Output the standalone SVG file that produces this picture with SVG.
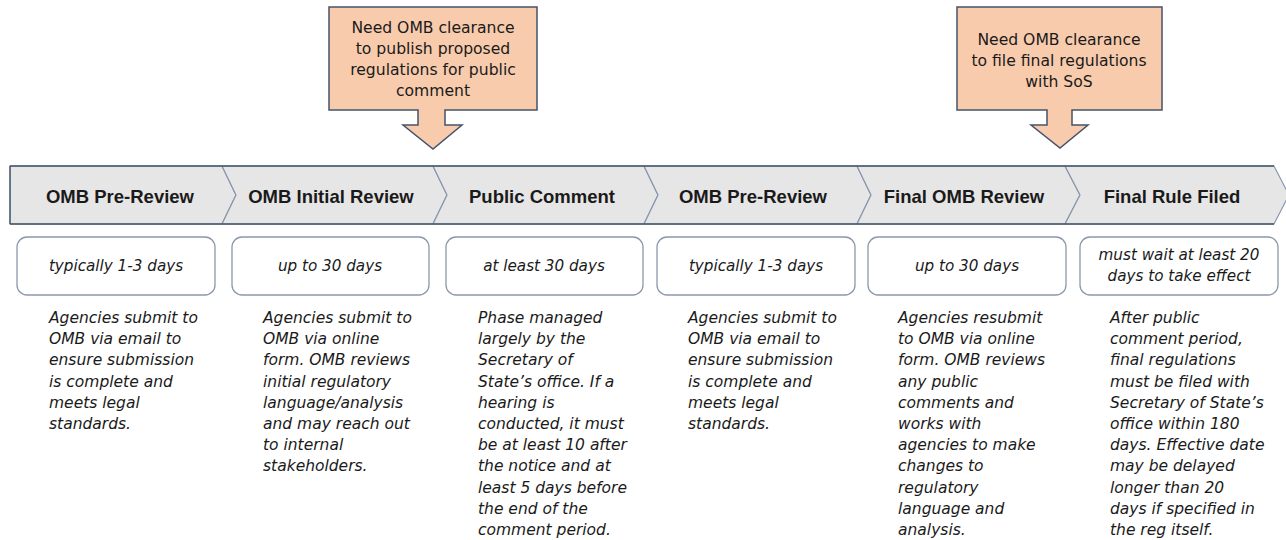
<svg xmlns="http://www.w3.org/2000/svg" width="1286" height="540" viewBox="0 0 1286 540">
<style>
.seg{fill:#e7e6e6;stroke:#8796ad;stroke-width:1.2}
.edge{stroke:#44546a;stroke-width:1.3;fill:none}
.lbl{font-family:"Liberation Sans",Arial,sans-serif;font-weight:bold;font-size:18.5px;fill:#1a1a1a;text-anchor:middle}
.box{fill:#ffffff;stroke:#8a98ac;stroke-width:1.3}
.dur{font-family:"DejaVu Sans",Verdana,sans-serif;font-style:italic;font-size:15.2px;fill:#1a1a1a;text-anchor:middle}
.body{font-family:"DejaVu Sans",Verdana,sans-serif;font-style:italic;font-size:15.5px;fill:#1a1a1a}
.call{fill:#f8cbad;stroke:#44546a;stroke-width:1.5}
.ctext{font-family:"DejaVu Sans",Verdana,sans-serif;font-size:15.6px;fill:#1a1a1a;text-anchor:middle}
</style>
<rect width="1286" height="540" fill="#ffffff"/>

<g id="callout-proposed">
<path class="call" d="M329,7 H537 V110 H445 V125 H462 L433,149 L403,125 H418 V110 H329 Z"/>
<text class="ctext" x="433" y="33">Need OMB clearance</text>
<text class="ctext" x="433" y="54">to publish proposed</text>
<text class="ctext" x="433" y="75">regulations for public</text>
<text class="ctext" x="433" y="96">comment</text>
</g>

<g id="callout-final">
<path class="call" d="M957,7 H1162 V110 H1072 V125 H1088 L1060,148 L1031,125 H1047 V110 H957 Z"/>
<text class="ctext" x="1059" y="45">Need OMB clearance</text>
<text class="ctext" x="1059" y="66">to file final regulations</text>
<text class="ctext" x="1059" y="87">with SoS</text>
</g>

<g id="phase-1">
<polygon class="seg" points="10,166 222,166 236,195 222,224 10,224"/>
<text class="lbl" x="120" y="203">OMB Pre-Review</text>
<rect class="box" x="17" y="237" width="198" height="58" rx="10"/>
<text class="dur" x="116" y="271">typically 1-3 days</text>
<text class="body" x="49" y="323">
<tspan x="49" dy="0">Agencies submit to</tspan>
<tspan x="49" dy="21.2">OMB via email to</tspan>
<tspan x="49" dy="21.2">ensure submission</tspan>
<tspan x="49" dy="21.2">is complete and</tspan>
<tspan x="49" dy="21.2">meets legal</tspan>
<tspan x="49" dy="21.2">standards.</tspan>
</text>
</g>

<g id="phase-2">
<polygon class="seg" points="222,166 433,166 447,195 433,224 222,224 236,195"/>
<text class="lbl" x="331" y="203">OMB Initial Review</text>
<rect class="box" x="232" y="237" width="197" height="58" rx="10"/>
<text class="dur" x="330" y="271">up to 30 days</text>
<text class="body" x="263" y="323">
<tspan x="263" dy="0">Agencies submit to</tspan>
<tspan x="263" dy="21.2">OMB via online</tspan>
<tspan x="263" dy="21.2">form. OMB reviews</tspan>
<tspan x="263" dy="21.2">initial regulatory</tspan>
<tspan x="263" dy="21.2">language/analysis</tspan>
<tspan x="263" dy="21.2">and may reach out</tspan>
<tspan x="263" dy="21.2">to internal</tspan>
<tspan x="263" dy="21.2">stakeholders.</tspan>
</text>
</g>

<g id="phase-3">
<polygon class="seg" points="433,166 644,166 658,195 644,224 433,224 447,195"/>
<text class="lbl" x="542" y="203">Public Comment</text>
<rect class="box" x="446" y="237" width="197" height="58" rx="10"/>
<text class="dur" x="544" y="271">at least 30 days</text>
<text class="body" x="478" y="323">
<tspan x="478" dy="0">Phase managed</tspan>
<tspan x="478" dy="21.2">largely by the</tspan>
<tspan x="478" dy="21.2">Secretary of</tspan>
<tspan x="478" dy="21.2">State’s office. If a</tspan>
<tspan x="478" dy="21.2">hearing is</tspan>
<tspan x="478" dy="21.2">conducted, it must</tspan>
<tspan x="478" dy="21.2">be at least 10 after</tspan>
<tspan x="478" dy="21.2">the notice and at</tspan>
<tspan x="478" dy="21.2">least 5 days before</tspan>
<tspan x="478" dy="21.2">the end of the</tspan>
<tspan x="478" dy="21.2">comment period.</tspan>
</text>
</g>

<g id="phase-4">
<polygon class="seg" points="644,166 857,166 871,195 857,224 644,224 658,195"/>
<text class="lbl" x="753" y="203">OMB Pre-Review</text>
<rect class="box" x="657" y="237" width="198" height="58" rx="10"/>
<text class="dur" x="756" y="271">typically 1-3 days</text>
<text class="body" x="688" y="323">
<tspan x="688" dy="0">Agencies submit to</tspan>
<tspan x="688" dy="21.2">OMB via email to</tspan>
<tspan x="688" dy="21.2">ensure submission</tspan>
<tspan x="688" dy="21.2">is complete and</tspan>
<tspan x="688" dy="21.2">meets legal</tspan>
<tspan x="688" dy="21.2">standards.</tspan>
</text>
</g>

<g id="phase-5">
<polygon class="seg" points="857,166 1065,166 1080,195 1065,224 857,224 871,195"/>
<text class="lbl" x="964" y="203">Final OMB Review</text>
<rect class="box" x="868" y="237" width="198" height="58" rx="10"/>
<text class="dur" x="967" y="271">up to 30 days</text>
<text class="body" x="898" y="323">
<tspan x="898" dy="0">Agencies resubmit</tspan>
<tspan x="898" dy="21.2">to OMB via online</tspan>
<tspan x="898" dy="21.2">form. OMB reviews</tspan>
<tspan x="898" dy="21.2">any public</tspan>
<tspan x="898" dy="21.2">comments and</tspan>
<tspan x="898" dy="21.2">works with</tspan>
<tspan x="898" dy="21.2">agencies to make</tspan>
<tspan x="898" dy="21.2">changes to</tspan>
<tspan x="898" dy="21.2">regulatory</tspan>
<tspan x="898" dy="21.2">language and</tspan>
<tspan x="898" dy="21.2">analysis.</tspan>
</text>
</g>

<g id="phase-6">
<polygon class="seg" points="1065,166 1274,166 1289,195 1274,224 1065,224 1080,195"/>
<text class="lbl" x="1172" y="203">Final Rule Filed</text>
<rect class="box" x="1080" y="237" width="198" height="58" rx="10"/>
<text class="dur" x="1179" y="260">must wait at least 20</text>
<text class="dur" x="1179" y="281">days to take effect</text>
<text class="body" x="1110" y="323">
<tspan x="1110" dy="0">After public</tspan>
<tspan x="1110" dy="21.2">comment period,</tspan>
<tspan x="1110" dy="21.2">final regulations</tspan>
<tspan x="1110" dy="21.2">must be filed with</tspan>
<tspan x="1110" dy="21.2">Secretary of State’s</tspan>
<tspan x="1110" dy="21.2">office within 180</tspan>
<tspan x="1110" dy="21.2">days. Effective date</tspan>
<tspan x="1110" dy="21.2">may be delayed</tspan>
<tspan x="1110" dy="21.2">longer than 20</tspan>
<tspan x="1110" dy="21.2">days if specified in</tspan>
<tspan x="1110" dy="21.2">the reg itself.</tspan>
</text>
</g>

<g id="connectors">
<path class="edge" d="M10,166 H1274 M10,224 H1274 M10,166 V224"/>
</g>
</svg>
